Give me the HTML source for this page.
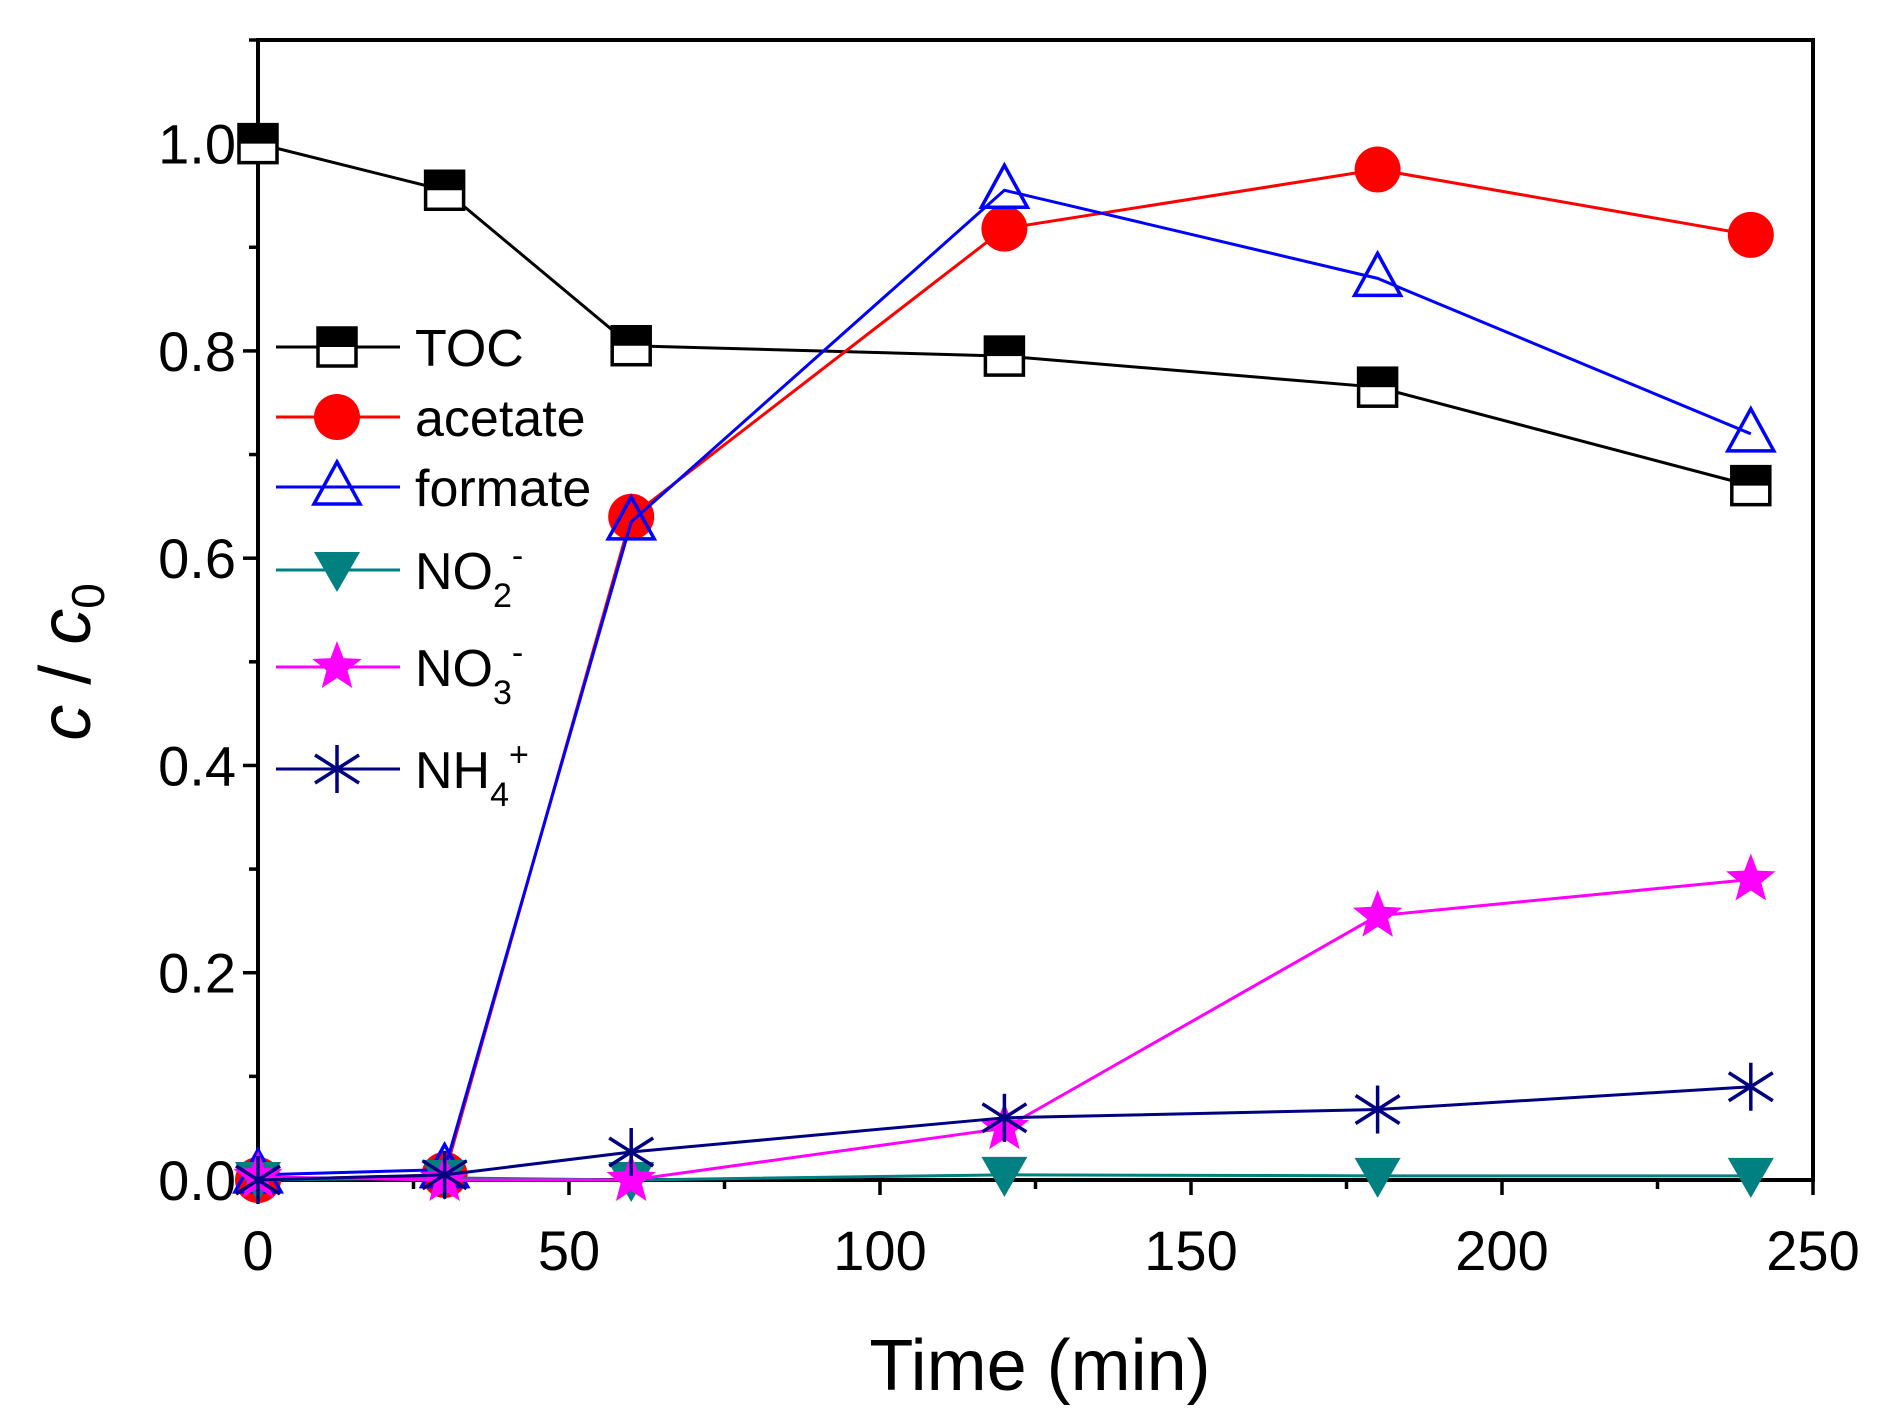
<!DOCTYPE html>
<html><head><meta charset="utf-8"><style>
body{margin:0;background:#fff}
svg{display:block;font-family:"Liberation Sans",Arial,sans-serif}
</style></head><body>
<svg id="chart" width="1888" height="1419" viewBox="0 0 1888 1419" xmlns="http://www.w3.org/2000/svg">
<g id="grid"></g>
<g id="series"></g>
<g id="legend"></g>
<text x="1040" y="1390" font-size="72" text-anchor="middle">Time (min)</text>
<text transform="translate(90,662) rotate(-90)" font-size="72" text-anchor="middle"><tspan font-style="italic">c</tspan> / <tspan font-style="italic">c</tspan><tspan font-size="46" dy="14">0</tspan></text>
</svg>
<script>
const times = [0, 30, 60, 120, 180, 240];
const toc = [1.0, 0.955, 0.805, 0.795, 0.765, 0.67];
const acetate = [0, 0.005, 0.64, 0.918, 0.975, 0.912];
const formate = [0.005, 0.01, 0.635, 0.955, 0.87, 0.72];
const no2 = [0, 0.002, 0, 0.005, 0.004, 0.004];
const no3 = [0.003, 0, 0, 0.05, 0.255, 0.29];
const nh4 = [0, 0.005, 0.027, 0.06, 0.068, 0.09];
const xTicks = [0, 50, 100, 150, 200, 250];
const yTicks = [0.0, 0.2, 0.4, 0.6, 0.8, 1.0];

const L=258,R=1813,T=40,B=1180;
const X=v=>L+(v/250)*(R-L);
const Y=v=>B-(v/1.1)*(B-T);
const NS="http://www.w3.org/2000/svg";
function mk(tag,attrs,parent){const e=document.createElementNS(NS,tag);for(const k in attrs)e.setAttribute(k,attrs[k]);parent.appendChild(e);return e;}
const grid=document.getElementById('grid');
const frame=mk('rect',{x:L,y:T,width:R-L,height:B-T,fill:'none',stroke:'#000','stroke-width':4},grid);


xTicks.forEach(v=>{
  const t=mk('line',{x1:X(v),x2:X(v),y1:B,y2:B+15,stroke:'#000','stroke-width':3.5},grid);
  
  
  const lb=mk('text',{x:X(v),y:B+90,'font-size':56,'text-anchor':'middle'},grid);lb.textContent=v;
  
  
  if(v<250){const m=mk('line',{x1:X(v+25),x2:X(v+25),y1:B,y2:B+9,stroke:'#000','stroke-width':3.5},grid);
  
  }
});
yTicks.forEach(v=>{
  const t=mk('line',{x1:L-15,x2:L,y1:Y(v),y2:Y(v),stroke:'#000','stroke-width':3.5},grid);
  
  
  const lb=mk('text',{x:L-22,y:Y(v)+20,'font-size':56,'text-anchor':'end'},grid);lb.textContent=v.toFixed(1);
  
  
  const m=mk('line',{x1:L-9,x2:L,y1:Y(v+0.1),y2:Y(v+0.1),stroke:'#000','stroke-width':3.5},grid);
  
  
});

function marker(type,color,cx,cy,g){
  if(type==='sq'){
    mk('rect',{x:cx-19,y:cy-19,width:38,height:38,fill:'#fff',stroke:'#000','stroke-width':3.5},g);
    mk('rect',{x:cx-19,y:cy-19,width:38,height:19,fill:'#000'},g);
  }else if(type==='circ'){
    mk('circle',{cx:cx,cy:cy,r:23,fill:color},g);
  }else if(type==='tri'){
    mk('polygon',{points:`${cx},${cy-25} ${cx-23},${cy+17} ${cx+23},${cy+17}`,fill:'none',stroke:color,'stroke-width':3.5},g);
  }else if(type==='dtri'){
    mk('polygon',{points:`${cx},${cy+22} ${cx-23},${cy-18} ${cx+23},${cy-18}`,fill:color},g);
  }else if(type==='star'){
    let p=[];for(let i=0;i<10;i++){const r=i%2?11:26;const a=-Math.PI/2+i*Math.PI/5;p.push((cx+r*Math.cos(a)).toFixed(1)+','+(cy+r*Math.sin(a)).toFixed(1));}
    mk('polygon',{points:p.join(' '),fill:color},g);
  }else if(type==='ast'){
    [[0,-24,0,24],[-22,-14,22,14],[-22,14,22,-14]].forEach(d=>mk('line',{x1:cx+d[0],y1:cy+d[1],x2:cx+d[2],y2:cy+d[3],stroke:color,'stroke-width':3.5},g));
  }
}
const series=[
 {name:'toc',vals:toc,color:'#000',type:'sq'},
 {name:'acetate',vals:acetate,color:'#ff0000',type:'circ'},
 {name:'formate',vals:formate,color:'#0000ff',type:'tri'},
 {name:'no2',vals:no2,color:'#008080',type:'dtri'},
 {name:'no3',vals:no3,color:'#ff00ff',type:'star'},
 {name:'nh4',vals:nh4,color:'#000080',type:'ast'}
];
const sg=document.getElementById('series');
series.forEach(s=>{
  const g=mk('g',{},sg);
  
  
  const pl=mk('polyline',{points:times.map((t,i)=>X(t)+','+Y(s.vals[i])).join(' '),fill:'none',stroke:s.color,'stroke-width':3},g);
  
  
  times.forEach((t,i)=>marker(s.type,s.color,X(t),Y(s.vals[i]),g));
});
const lg=document.getElementById('legend');
const labels=['TOC','acetate','formate','NO<tspan font-size="34" dy="18">2</tspan><tspan font-size="34" dy="-40">-</tspan>','NO<tspan font-size="34" dy="18">3</tspan><tspan font-size="34" dy="-40">-</tspan>','NH<tspan font-size="34" dy="18">4</tspan><tspan font-size="34" dy="-40">+</tspan>'];
const rows=[347,417,487,570,667,769];
series.forEach((s,i)=>{
  const g=mk('g',{},lg);
  
  
  mk('line',{x1:276,x2:400,y1:rows[i],y2:rows[i],stroke:s.color,'stroke-width':3},g);
  marker(s.type,s.color,337,rows[i],g);
  const t=mk('text',{x:415,y:rows[i]+19,'font-size':52},g);
  t.innerHTML=labels[i];
});
</script>
</body></html>
